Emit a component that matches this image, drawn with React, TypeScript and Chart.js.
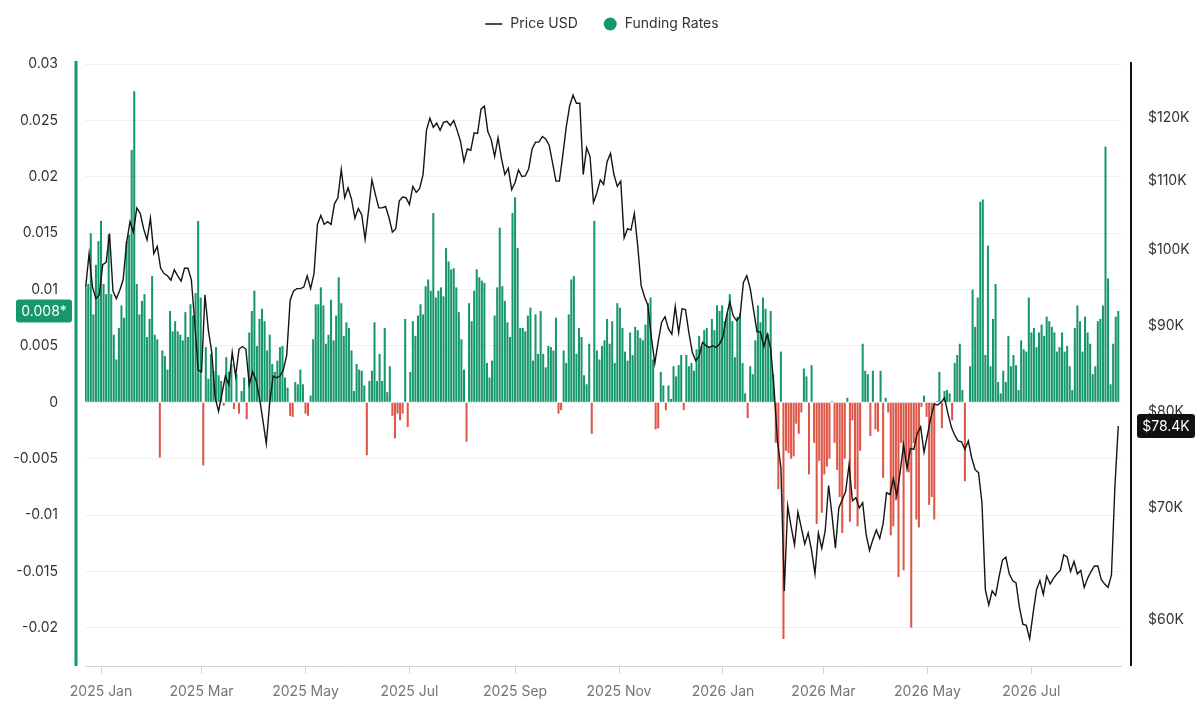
import React, { useEffect, useRef } from 'react';
import { Chart, registerables } from 'chart.js';

Chart.register(...registerables);

// ---------- data ----------
const legendLabels = ['Price USD', 'Funding Rates'];

const fundingStartDate = '2024-12-23';
const fundingStepDays = 1.5;
// funding rate, in units of 0.001
const fundingRatesPermille = [
  10.2, 10.5, 15.0, 7.8, 12.2, 14.3, 16.1, 10.5, 9.6, 14.9,
  9.6, 6.0, 3.8, 6.6, 8.6, 7.5, 14.3, 14.9, 22.4, 27.6,
  10.5, 7.8, 9.0, 9.6, 5.8, 7.4, 11.2, 6.0, 5.6, -4.9,
  4.6, 4.1, 2.9, 8.1, 6.3, 7.2, 6.3, 6.0, 5.5, 8.0,
  5.8, 8.7, 7.7, 9.7, 16.1, 9.3, -5.6, 4.9, 2.1, 4.3,
  2.8, 4.9, 2.4, 1.9, -0.3, 4.0, 2.7, 3.4, -0.6, 2.5,
  -1.0, 1.0, 2.2, -1.5, 6.2, 8.1, 9.9, 5.0, 7.4, 8.3,
  7.2, 4.6, 6.0, 3.4, 2.7, 3.7, 4.9, 5.0, 2.2, 1.3,
  -1.2, -1.3, 1.8, 1.6, 2.9, 1.6, -1.0, -1.2, 0.6, 5.6,
  8.7, 8.7, 10.2, 8.6, 5.2, 6.0, 9.1, 5.5, 7.7, 11.1,
  8.8, 5.9,
  7.1, 6.6, 4.6, 1.0, 3.4, 2.9, 2.8, 1.5, -4.7, 1.9,
  2.8, 7.1, 1.9, 4.3, 1.9, 6.6, 0.9, 3.2, -1.2, -3.2,
  -1.0, -1.6, -1.0, 7.4, -2.2, 2.7, 7.2, 5.9, 7.7, 8.7,
  7.8, 10.3, 10.9, 9.9, 16.8, 9.3, 9.9, 10.2, 9.4, 13.7,
  12.5, 11.8, 11.9, 10.2, 8.0, 5.6, 2.9, -3.5, 8.8, 7.2,
  9.9, 11.8, 11.1, 10.8, 10.6, 3.5, 2.2, 3.7, 7.7, 10.2,
  15.5, 10.3, 9.0, 7.1, 5.8, 16.8, 18.2, 13.7, 6.6, 6.6,
  6.3, 7.7, 8.4, 3.7, 7.8, 4.3, 8.1, 4.3, 3.1, 5.0,
  4.9, 4.6, 7.5, -1.0, -0.7, 4.6, 3.5, 7.8, 10.9, 11.2,
  4.3, 6.6, 5.8, 2.4, 1.6, 5.2, -2.8, 16.1, 4.6, 3.8,
  5.0, 5.5, 7.4, 5.2,
  7.2, 3.5, 8.8, 8.4, 6.6, 4.5, 3.7, 6.2, 4.2, 6.7,
  6.4, 5.7, 5.5, 6.9, 8.8, 9.3, 3.8, -2.4, -2.3, 2.7,
  1.5, -0.7, 1.5, 0.3, 3.2, 2.3, 3.3, 4.2, -0.7, 4.2,
  3.2, 3.5, 2.8, 4.7, 5.9, 5.0, 6.4, 6.6, 4.9, 7.4,
  6.4, 8.6, 8.1, 8.6, 7.2, 7.9, 9.6, 7.2, 4.0, 7.6,
  7.9, 3.5, 0.8, -1.4, 3.2, 2.5, 5.5, 8.6, 7.1, 9.3,
  8.3, 6.1, 8.1, 2.5, -3.6, -7.7, 4.5, -21.0, -4.3, -4.5,
  -5.0, -4.8, -1.9, -2.8, -0.9, 3.0, 2.3, -6.4, 3.3, -3.6,
  -10.8, -5.2, -9.8, -6.4, -5.7, -5.0, 0.1, -3.6, -6.0, -8.4,
  -11.6, -5.0, 0.4, -10.6, -1.6, -7.7, -11.0, -4.3, 5.2, 2.8,
  2.5,
  -3.0, 2.8, -2.4, -2.6, 2.8, -6.7, 0.4, -0.9, -11.8, -11.0,
  -8.7, -15.5, -3.6, -14.9, -5.3, -6.2, -20.0, -3.6, -10.4, -11.1,
  -0.4, 0.6, -1.3, -9.1, -8.4, -10.4, 0.1, 2.7, -2.3, 1.0,
  1.1, 0.8, -1.6, 3.5, 4.2, 5.2, 1.1, -7.0, 0.0, 3.2,
  10.0, 6.7, 9.3, 17.8, 18.0, 4.2, 13.9, 3.2, 7.4, 10.5,
  1.8, 0.8, 2.8, 1.8, 5.9, 3.2, 4.2, 3.3, 1.1, 5.5,
  4.7, 4.5, 9.3, 6.2, 6.6, 4.9, 6.2, 6.9, 5.9, 7.6,
  7.2, 6.7, 6.2, 4.5, 4.9, 6.2, 4.5, 5.0, 3.2, 1.1,
  6.6, 8.6, 7.2, 4.5, 7.6, 6.2, 5.2, 2.5, 3.2, 7.2,
  7.4, 8.6, 22.7, 11.0, 1.6, 5.2, 7.6, 8.1,
];

const priceStartDate = '2024-12-23';
const priceStepDays = 2;
// BTC price, in thousands of USD
const priceUsdK = [
  95, 99.5, 95, 93.5, 94, 98, 98.3, 102.3, 94.5, 93.5,
  94.6, 96, 101, 104, 102.5, 106, 105.2, 103, 101.4, 104.5,
  99.5, 100.5, 97.5, 96.8, 96.5, 95.9, 97.3, 96.5, 95.8, 97.5,
  97.5, 96, 90.5, 84.7, 84.5, 94, 89.5, 86.8, 81.5, 80,
  82, 84, 83, 86.8, 84, 87.2, 87.5, 87.2, 83, 84.5,
  83.5, 81.5, 79, 76.5, 81, 84, 83.8, 84, 84.7, 86.5,
  93.3, 94.5, 94.8, 94.8, 95, 96.5, 94.8, 96.8, 103.6, 104.9,
  103.6, 104, 103.6, 106.6, 107.5, 111.8, 107.5, 109, 107.3, 104.5,
  105.9, 105, 101.5, 105.6, 110.2, 108, 106, 106, 106.2, 104.6,
  102.5, 103, 107, 107.6, 107.5, 106.5, 109.2, 108.3, 108.9, 111,
  118, 120, 118.5, 119.2, 118, 119.3, 119.5, 118.8, 119.6, 118,
  116.2, 113, 115, 114.8, 117.6, 117.5, 121.5, 122, 117.8, 116.5,
  113.8, 116.8, 113.5, 111, 112, 108.7, 109.8, 111.7, 110.7, 110.8,
  111.9, 115, 116.1, 116.1, 117, 116.6, 115.6, 112.8, 110, 110,
  114, 118.5, 122, 123.9, 122.5, 122.5, 111, 115.2, 113.8, 106.8,
  108.2, 110.2, 109.5, 113, 114.3, 111, 109.2, 110, 101.7, 103,
  102.8, 105.2, 100.5, 95.2, 93.7, 92.6, 88.6, 85.5, 88.1, 90.5,
  91.2, 89.7, 89, 92.5, 89.2, 92.2, 92.1, 89.2, 86.8, 85.8,
  86.3, 88, 87.6, 87.4, 87.6, 87.4, 87.8, 88.7, 91.2, 93.1,
  91.3, 90.7, 91.2, 95.6, 96.5, 94.8, 92, 89.3, 89.3, 87.5,
  89, 87.3, 82.5, 76.8, 74, 62.4, 70.2, 68.2, 66.5, 69.6,
  68.1, 66.6, 67.6, 66, 63.9, 67.6, 66.2, 67.8, 72.2, 69.3,
  66.2, 70, 70.8, 71.6, 74.3, 70.7, 71, 70, 70.5, 67.5,
  66, 67, 67.9, 67.1, 68.5, 71.5, 71.3, 72.9, 71.2, 73.6,
  76.4, 73.9, 76, 75.9, 77.6, 78.3, 75.6, 77.4, 79.3, 80.8,
  80.7, 81, 81.5, 79.8, 78.3, 77.4, 76.8, 76.7, 75.9, 76.8,
  75, 73.8, 73.5, 70.5, 62.5, 61.2, 62.4, 62, 63.6, 65.1,
  65.4, 63.9, 63.3, 63.1, 61, 59.6, 59.5, 58.4, 60.5, 62.5,
  63.3, 62.1, 63.7, 63, 63.5, 63.9, 64.2, 65.6, 65.4, 64.1,
  65, 63.9, 64.2, 62.7, 63.5, 64.1, 64.6, 64.6, 63.4, 63,
  62.7, 63.8, 72, 78.4,
];

const monthTickDates = [
  '2025-01-01', '2025-03-01', '2025-05-01', '2025-07-01', '2025-09-01',
  '2025-11-01', '2026-01-01', '2026-03-01', '2026-05-01', '2026-07-01',
];
const monthTickLabels = [
  '2025 Jan', '2025 Mar', '2025 May', '2025 Jul', '2025 Sep',
  '2025 Nov', '2026 Jan', '2026 Mar', '2026 May', '2026 Jul',
];
const fundingTicks = [-0.02, -0.015, -0.01, -0.005, 0, 0.005, 0.01, 0.015, 0.02, 0.025, 0.03];
const priceTicks = [60000, 70000, 80000, 90000, 100000, 110000, 120000];

const axisStartDate = '2024-12-23';
const axisEndDate = '2026-08-21';
const fundingMin = -0.0234;
const fundingMax = 0.0302;
const priceMin = 56250;
const priceMax = 129700;

// ---------- helpers ----------
const DAY_MS = 86400000;
const EPOCH = Date.UTC(2025, 0, 1);
const dayOf = (s: string) => (Date.parse(s + 'T00:00:00Z') - EPOCH) / DAY_MS;

const GREEN = '#17986a';
const RED = '#df5546';
const FONT = "Inter, 'Noto Sans', 'DejaVu Sans', sans-serif";

const fmtFund = (v: number) => {
  const n = parseFloat(Number(v).toFixed(4));
  return String(n === 0 ? 0 : n);
};

function roundRect(ctx: CanvasRenderingContext2D, x: number, y: number, w: number, h: number, r: number) {
  ctx.beginPath();
  ctx.moveTo(x + r, y);
  ctx.lineTo(x + w - r, y);
  ctx.quadraticCurveTo(x + w, y, x + w, y + r);
  ctx.lineTo(x + w, y + h - r);
  ctx.quadraticCurveTo(x + w, y + h, x + w - r, y + h);
  ctx.lineTo(x + r, y + h);
  ctx.quadraticCurveTo(x, y + h, x, y + h - r);
  ctx.lineTo(x, y + r);
  ctx.quadraticCurveTo(x, y, x + r, y);
  ctx.closePath();
}

const decorPlugin = {
  id: 'decor',
  afterDraw(chart: any) {
    const { ctx, chartArea: a, scales } = chart;
    ctx.save();
    // axis bars
    ctx.fillStyle = GREEN;
    ctx.fillRect(a.left - 10.5, a.top - 1, 3, a.bottom - a.top + 1);
    ctx.fillStyle = '#111';
    ctx.fillRect(a.right + 9, a.top, 2, a.bottom - a.top);

    ctx.font = `14px ${FONT}`;
    ctx.textBaseline = 'middle';
    ctx.textAlign = 'center';

    // last funding badge
    const lastF = fundingRatesPermille[fundingRatesPermille.length - 1] / 1000;
    const yF = scales.yFund.getPixelForValue(lastF);
    const fText = lastF.toFixed(3) + '*';
    ctx.fillStyle = GREEN;
    roundRect(ctx, a.left - 69, yF - 11.5, 56, 23, 3);
    ctx.fill();
    ctx.fillStyle = '#fff';
    ctx.fillText(fText, a.left - 41, yF + 0.5);

    // last price badge
    const lastP = priceUsdK[priceUsdK.length - 1] * 1000;
    const yP = scales.yPrice.getPixelForValue(lastP);
    const pText = '$' + (lastP / 1000).toFixed(1) + 'K';
    ctx.fillStyle = '#111';
    roundRect(ctx, a.right + 16, yP - 12, 58, 24, 3);
    ctx.fill();
    ctx.fillStyle = '#fff';
    ctx.fillText(pText, a.right + 45, yP + 0.5);

    // legend
    ctx.textAlign = 'left';
    ctx.fillStyle = '#333';
    const w1 = ctx.measureText(legendLabels[0]).width;
    const w2 = ctx.measureText(legendLabels[1]).width;
    const total = 17 + 8 + w1 + 26 + 13 + 8 + w2;
    let x = chart.width / 2 + 2 - total / 2;
    const y = 24;
    ctx.strokeStyle = '#111';
    ctx.lineWidth = 1.5;
    ctx.beginPath();
    ctx.moveTo(x, y);
    ctx.lineTo(x + 17, y);
    ctx.stroke();
    x += 25;
    ctx.fillText(legendLabels[0], x, y);
    x += w1 + 26;
    ctx.fillStyle = GREEN;
    ctx.beginPath();
    ctx.arc(x + 6.5, y, 6.5, 0, Math.PI * 2);
    ctx.fill();
    x += 21;
    ctx.fillStyle = '#333';
    ctx.fillText(legendLabels[1], x, y);
    ctx.restore();
  },
};

export default function App() {
  const ref = useRef<HTMLCanvasElement | null>(null);

  useEffect(() => {
    document.body.style.margin = '0';
    if (!ref.current) return;
    Chart.defaults.font.family = FONT;
    Chart.defaults.font.size = 14;

    const fStart = dayOf(fundingStartDate);
    const pStart = dayOf(priceStartDate);
    const fundingData = fundingRatesPermille.map((v, i) => ({ x: fStart + i * fundingStepDays, y: v / 1000 }));
    const priceData = priceUsdK.map((v, i) => ({ x: pStart + i * priceStepDays, y: v * 1000 }));
    const monthTickDays = monthTickDates.map(dayOf);

    const chart = new Chart(ref.current, {
      type: 'bar',
      data: {
        datasets: [
          {
            type: 'line',
            label: legendLabels[0],
            data: priceData,
            yAxisID: 'yPrice',
            borderColor: '#151515',
            borderWidth: 1.4,
            pointRadius: 0,
            tension: 0,
            order: 0,
          } as any,
          {
            type: 'bar',
            label: legendLabels[1],
            data: fundingData,
            yAxisID: 'yFund',
            backgroundColor: (c: any) => (c.raw && c.raw.y < 0 ? RED : GREEN),
            barPercentage: 1,
            categoryPercentage: 0.8,
            order: 1,
          } as any,
        ],
      },
      options: {
        animation: false,
        responsive: true,
        maintainAspectRatio: false,
        events: [],
        layout: { padding: { top: 62, left: 0, right: 0, bottom: 0 } },
        plugins: { legend: { display: false }, tooltip: { enabled: false } },
        scales: {
          x: {
            type: 'linear',
            offset: false,
            min: dayOf(axisStartDate) - 0.4,
            max: dayOf(axisEndDate) + 1.6,
            afterBuildTicks: (s: any) => {
              s.ticks = monthTickDays.map((v) => ({ value: v }));
            },
            afterFit: (s: any) => {
              s.height = 50;
            },
            ticks: {
              autoSkip: false,
              maxRotation: 0,
              color: '#757575',
              padding: 9,
              callback: (_v: any, i: number) => monthTickLabels[i],
            },
            grid: { offset: false, drawOnChartArea: false, drawTicks: true, tickLength: 8, color: '#d4d4d4' },
            border: { display: true, color: '#d4d4d4' },
          },
          yFund: {
            type: 'linear',
            position: 'left',
            min: fundingMin,
            max: fundingMax,
            afterBuildTicks: (s: any) => {
              s.ticks = fundingTicks.map((v) => ({ value: v }));
            },
            afterFit: (s: any) => {
              s.width = 85;
            },
            ticks: { padding: 27, color: '#333', callback: (v: any) => fmtFund(v) },
            grid: { color: '#f0f0f0', drawTicks: false },
            border: { display: false },
          },
          yPrice: {
            type: 'logarithmic',
            position: 'right',
            min: priceMin,
            max: priceMax,
            afterBuildTicks: (s: any) => {
              s.ticks = priceTicks.map((v) => ({ value: v }));
            },
            afterFit: (s: any) => {
              s.width = 79;
            },
            ticks: { padding: 27, color: '#333', callback: (v: any) => '$' + Math.round(Number(v) / 1000) + 'K' },
            grid: { display: false, drawTicks: false },
            border: { display: false },
          },
        } as any,
      },
      plugins: [decorPlugin],
    });
    return () => chart.destroy();
  }, []);

  return (
    <div style={{ position: 'relative', width: 1200, height: 716 }}>
      <canvas ref={ref} />
    </div>
  );
}
